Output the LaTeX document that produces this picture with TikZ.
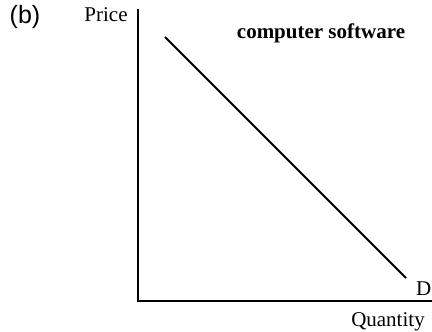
\documentclass[tikz,border=0pt]{standalone}
\usepackage{fontspec}
\setmainfont{Liberation Serif}
\newfontfamily\labelsans{Liberation Sans}
\begin{document}
\begin{tikzpicture}[x=1pt,y=-1pt,
  axisline/.style={line width=2pt},
  curve/.style={line width=1.8pt},
  lbl/.style={inner sep=0pt,font=\fontsize{21}{23}\selectfont}]
\useasboundingbox (0,0) rectangle (432,332);
% axes
\coordinate (ytop) at (138,9);
\coordinate (origin) at (138,301);
\coordinate (xend) at (432,301);
\draw[axisline] (ytop) -- (origin) -- (xend);
% demand line
\coordinate (dtop) at (165,37);
\coordinate (dbot) at (406,278);
\draw[curve] (dtop) -- (dbot);
% labels
\node[lbl,font=\labelsans\fontsize{25}{27}\selectfont] (panel) at (25,17) {(b)};
\node[lbl] (price) at (106,15) {Price};
\node[lbl,font=\bfseries\fontsize{21}{23}\selectfont] (title) at (321,33) {computer software};
\node[lbl,anchor=east] (dlab) at (431.5,289) {D};
\node[lbl] (qty) at (388,322) {Quantity};
\end{tikzpicture}
\end{document}
